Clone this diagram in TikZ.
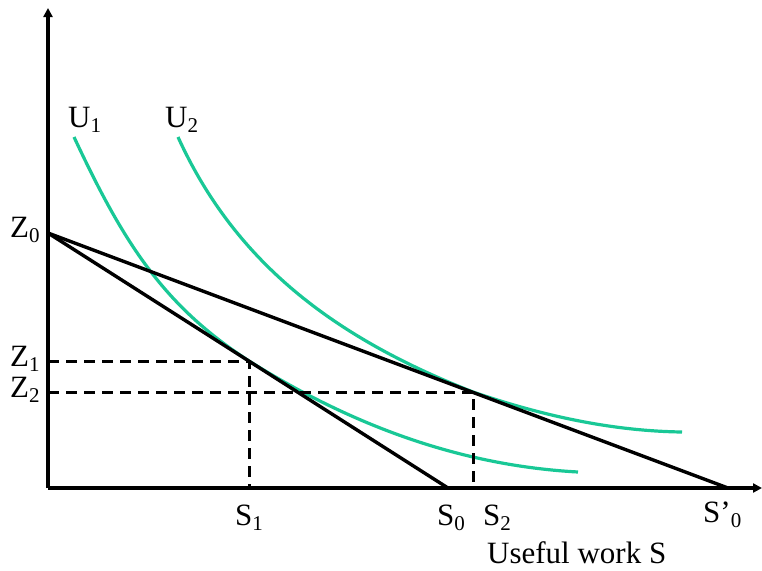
\documentclass[tikz,border=0pt]{standalone}
\usepackage{fontspec}
\setmainfont{Liberation Serif}
\usetikzlibrary{arrows.meta}
\definecolor{CurveGreen}{RGB}{25,200,150}
\newcommand{\lowsub}[1]{\raisebox{-5pt}{\fontsize{21}{21}\selectfont #1}}

\begin{document}
\begin{tikzpicture}[x=1pt, y=-1pt,
    every node/.style={font=\fontsize{31}{34}\selectfont, inner sep=0pt, anchor=base west},
    axis/.style={line width=3.4pt, -{Triangle[length=9pt, width=9pt]}},
    budget/.style={line width=3.4pt, black},
    guide/.style={line width=3pt, dash pattern=on 11pt off 7pt},
    indiff/.style={line width=3.2pt, CurveGreen}]
    \useasboundingbox (0,0) rectangle (762,570);
    % Points
    \coordinate (O) at (48,488);
    \coordinate (ytop) at (48,8);
    \coordinate (xend) at (762,488);
    \coordinate (Z0) at (48,233);
    \coordinate (Z1) at (48,361);
    \coordinate (Z2) at (48,392);
    \coordinate (T1) at (249,361);
    \coordinate (T2) at (473,392);
    \coordinate (S1) at (249,488);
    \coordinate (S2) at (473,488);
    \coordinate (S0) at (448,488);
    \coordinate (S0p) at (728,488);
    
    % Indifference curves
    \draw[indiff] (74,137) .. controls (124,244) and (164,306) .. (T1)
                  .. controls (359,430) and (468,466) .. (578,472);
    \draw[indiff] (178,137) .. controls (238,269) and (343,341) .. (T2)
                  .. controls (543,416) and (612,431) .. (682,432);
    
    % Dashed guides
    \draw[guide] (Z1) -- (T1) -- (S1);
    \draw[guide] (Z2) -- (T2) -- (S2);
    
    % Budget lines
    \draw[budget] (Z0) -- (S0);
    \draw[budget] (Z0) -- (S0p);
    
    % Axes
    \draw[axis] (O) -- (ytop);
    \draw[axis] (O) -- (xend);
    
    % Labels
    \node (u1) at (68,127) {U\lowsub{1}};
    \node (u2) at (165,127) {U\lowsub{2}};
    \node (z0) at (10,237) {Z\lowsub{0}};
    \node (z1) at (10,366) {Z\lowsub{1}};
    \node (z2) at (10,397) {Z\lowsub{2}};
    \node (s1) at (235,525) {S\lowsub{1}};
    \node (s0) at (437,525) {S\lowsub{0}};
    \node (s2) at (483,525) {S\lowsub{2}};
    \node (s0p) at (703,522) {S’\lowsub{0}};
    \node (xlabel) at (487,563) {Useful work S};
\end{tikzpicture}
\end{document}
